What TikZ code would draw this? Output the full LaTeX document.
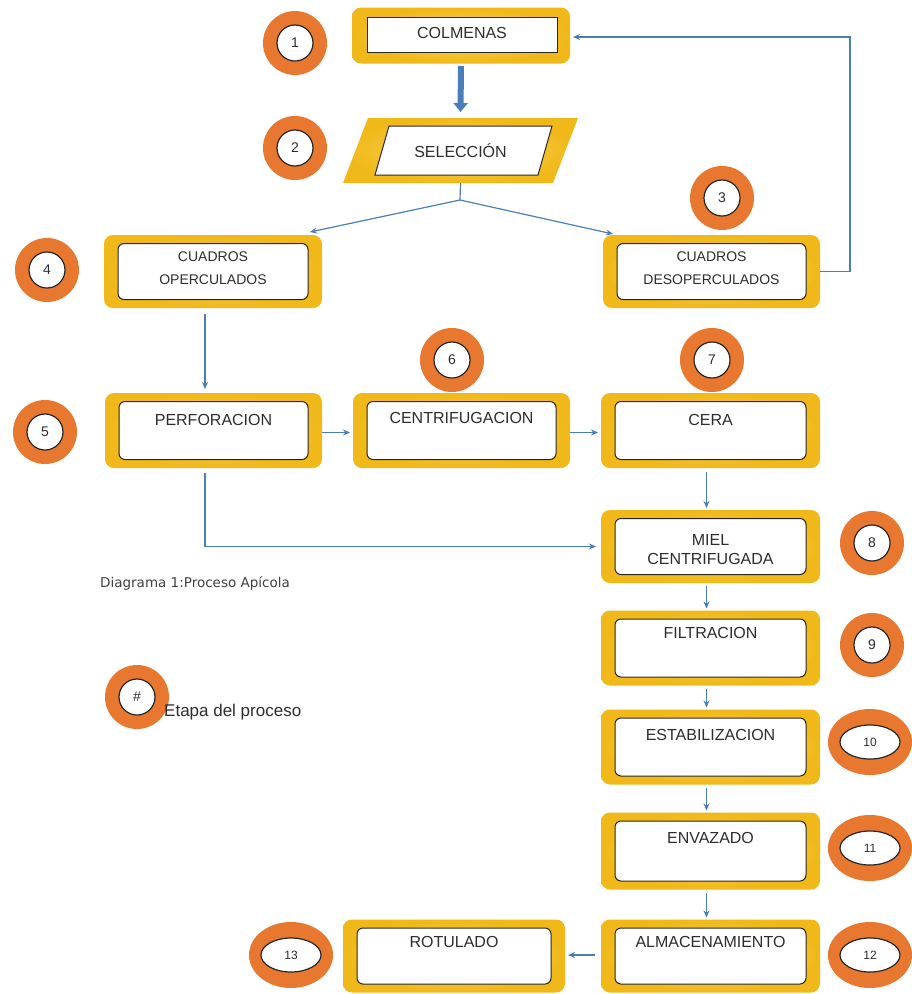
\documentclass[tikz,border=0pt]{standalone}
\usepackage{fontspec}
\setmainfont{Liberation Sans}
\newfontfamily\capfont{DejaVu Sans}
\usetikzlibrary{calc,arrows.meta,shapes.geometric}
\definecolor{gold}{RGB}{240,184,24}
\definecolor{goldlt}{RGB}{252,216,96}
\definecolor{orng}{RGB}{232,120,48}
\definecolor{arrblue}{RGB}{74,126,187}
\definecolor{txt}{RGB}{45,45,45}
\tikzset{
  x=1pt, y=-1pt,
  outerbox/.style={rectangle, rounded corners=9pt, inner sep=0pt, outer sep=0pt,
     shade, shading=radial, inner color=goldlt, outer color=gold},
  innerbox/.style={rectangle, rounded corners=6pt, fill=white, draw=black!85, line width=1pt, inner sep=0pt},
  lbl/.style={font=\fontsize{16}{19}\selectfont, text=txt, align=center, inner sep=0pt},
  smlbl/.style={font=\fontsize{14}{23}\selectfont, text=txt, align=center, inner sep=0pt},
  arr/.style={draw=arrblue, line width=1.2pt, -{Stealth[length=7pt,width=6pt]}},
  ln/.style={draw=arrblue, line width=1.2pt},
  numc/.style={circle, fill=orng, minimum size=64pt, inner sep=0pt},
  numin/.style={circle, fill=white, draw=black!85, line width=1.2pt, minimum size=36pt, inner sep=0pt,
     font=\fontsize{14}{16}\selectfont, text=txt},
  nume/.style={ellipse, fill=orng, minimum width=84pt, minimum height=66pt, inner sep=0pt},
  numein/.style={ellipse, fill=white, draw=black!85, line width=1.2pt, minimum width=60pt, minimum height=34pt, inner sep=0pt,
     font=\fontsize{12}{14}\selectfont, text=txt},
}
% name, cx, cy, w, h, text y, text
\newcommand\etapa[7]{%
  \node[outerbox, minimum width=#4pt, minimum height=#5pt] (#1) at (#2,#3) {};
  \node[innerbox, minimum width=#4pt-28pt, minimum height=#5pt-17pt] (#1-in) at (#2,#3) {};
  \node[lbl] (#1-t) at (#2,#6) {#7};
}
\newcommand\etapasm[7]{%
  \node[outerbox, minimum width=#4pt, minimum height=#5pt] (#1) at (#2,#3) {};
  \node[innerbox, minimum width=#4pt-28pt, minimum height=#5pt-17pt] (#1-in) at (#2,#3) {};
  \node[smlbl] (#1-t) at (#2,#6) {#7};
}
\newcommand\numcirc[4]{%
  \node[numc] (#1) at (#2,#3) {};
  \node[numin] at (#2,#3) {#4};
}
\newcommand\numell[4]{%
  \node[nume] (#1) at (#2,#3) {};
  \node[numein] at (#2,#3) {#4};
}
\begin{document}
\begin{tikzpicture}
\useasboundingbox (0,0) rectangle (911,994);
\fill[white] (0,0) rectangle (911,994);

% COLMENAS (inner is a plain rectangle)
\node[outerbox, minimum width=218pt, minimum height=56pt] (colm) at (461,35.5) {};
\node[rectangle, fill=white, draw=black!85, line width=1pt, minimum width=190pt, minimum height=35pt] (colm-in) at (462,35) {};
\node[lbl] at (462,33) {COLMENAS};

% SELECCION parallelogram
\shade[inner color=goldlt, outer color=gold] (368,118) -- (578,118) -- (553,183) -- (343,183) -- cycle;
\filldraw[fill=white, draw=black!85, line width=1pt] (389,126) -- (552,126) -- (538,175) -- (375,175) -- cycle;
\node[lbl, minimum width=210pt, minimum height=65pt] (sel) at (460.5,150.5) {SELECCIÓN};

% boxes
\etapasm{op}{213}{271.5}{218}{73}{268}{CUADROS\\OPERCULADOS}
\etapasm{desop}{711.5}{271.5}{217}{73}{268}{CUADROS\\DESOPERCULADOS}
\etapa{perf}{213.5}{430.5}{217}{75}{420}{PERFORACION}
\etapa{centri}{461.5}{430.5}{217}{75}{418}{CENTRIFUGACION}
\etapa{cera}{710.5}{430.5}{219}{75}{420}{CERA}
\etapa{miel}{710.5}{546.5}{219}{73}{550}{MIEL\\CENTRIFUGADA}
\etapa{filt}{710.5}{648}{219}{75}{633}{FILTRACION}
\etapa{estab}{710.5}{747}{219}{75}{735}{ESTABILIZACION}
\etapa{envaz}{710.5}{851}{219}{77}{838}{ENVAZADO}
\etapa{alm}{710.5}{956}{219}{73}{942}{ALMACENAMIENTO}
\etapa{rot}{454}{956}{222}{73}{942}{ROTULADO}

% number markers
\numcirc{n1}{295}{43}{1}
\numcirc{n2}{295}{148}{2}
\numcirc{n3}{722}{198}{3}
\numcirc{n4}{47}{270}{4}
\numcirc{n5}{45}{432}{5}
\numcirc{n6}{452}{360}{6}
\numcirc{n7}{712}{360}{7}
\numcirc{n8}{872}{543}{8}
\numcirc{n9}{872}{645}{9}
\numell{n10}{870}{742}{10}
\numell{n11}{870}{848}{11}
\numell{n12}{870}{955}{12}
\numell{n13}{291}{955}{13}

% legend
\numcirc{leg}{137}{697}{\#}
\node[font=\fontsize{17}{20}\selectfont, text=txt, anchor=west, inner sep=0pt] (legtxt) at (164,712) {Etapa del proceso};
\node[font=\capfont\fontsize{13.5}{16}\selectfont, text=black!75, anchor=west, inner sep=0pt] (cap) at (100,583) {Diagrama 1:Proceso Apícola};

% connectors
\draw[draw=arrblue, line width=6pt, -{Triangle[length=9pt,width=14pt]}] (colm.south |- 0,66) -- (sel.north |- 0,112);
\coordinate (split) at (460,200);
\draw[ln] (sel.south) -- (split);
\draw[arr] (split) -- ($(op.north east)+(-12,-3)$);
\draw[arr] (split) -- ($(desop.north west)+(10,-1)$);
\draw[arr] (desop.east) -- (850,271.5) |- ($(colm.east)+(3,1.5)$);
\coordinate (opb) at (205,314);
\draw[arr] (opb) -- (205,389);
\draw[arr] ($(perf.east)+(0,2)$) -- ($(centri.west)+(-3,2)$);
\draw[arr] ($(centri.east)+(0,2)$) -- ($(cera.west)+(-3,2)$);
\coordinate (perfb) at (205,473);
\draw[arr] (perfb) |- ($(miel.west)+(-5,0)$);
\draw[arr] ($(cera.south)+(-4,4)$) -- ($(miel.north)+(-4,-2)$);
\draw[arr] ($(miel.south)+(-4,3)$) -- ($(filt.north)+(-4,-2)$);
\draw[arr] ($(filt.south)+(-4,3)$) -- ($(estab.north)+(-4,-2)$);
\draw[arr] ($(estab.south)+(-4,3)$) -- ($(envaz.north)+(-4,-2)$);
\draw[arr] ($(envaz.south)+(-4,3)$) -- ($(alm.north)+(-4,-2)$);
\draw[arr] ($(alm.west)+(-6,-1)$) -- ($(rot.east)+(3,-1)$);
\end{tikzpicture}
\end{document}
